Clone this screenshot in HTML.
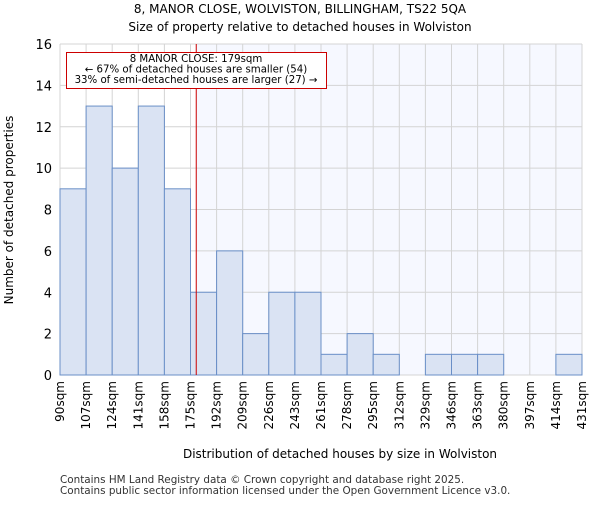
<!DOCTYPE html>
<html><head><meta charset="utf-8"><style>body{margin:0;background:#fff}svg text{font-family:"DejaVu Sans","Liberation Sans",sans-serif}</style></head>
<body>
<svg id="c" width="600" height="500" xmlns="http://www.w3.org/2000/svg">
<text x="300" y="13" text-anchor="middle" font-size="12">8, MANOR CLOSE, WOLVISTON, BILLINGHAM, TS22 5QA</text>
<text x="300" y="31" text-anchor="middle" font-size="12">Size of property relative to detached houses in Wolviston</text>
<g id="g"></g>
<text x="340" y="458" text-anchor="middle" font-size="12">Distribution of detached houses by size in Wolviston</text>
<text transform="translate(13,210) rotate(-90)" text-anchor="middle" font-size="12">Number of detached properties</text>
<text x="60" y="483" font-size="10.4" fill="#333">Contains HM Land Registry data © Crown copyright and database right 2025.</text>
<text x="60" y="494" font-size="10.4" fill="#333">Contains public sector information licensed under the Open Government Licence v3.0.</text>
</svg>
<script>
const binLabels=["90sqm","107sqm","124sqm","141sqm","158sqm","175sqm","192sqm","209sqm","226sqm","243sqm","261sqm","278sqm","295sqm","312sqm","329sqm","346sqm","363sqm","380sqm","397sqm","414sqm","431sqm"];
const counts=[9,13,10,13,9,4,6,2,4,4,1,2,1,0,1,1,1,0,0,1];
const yTicks=[0,2,4,6,8,10,12,14,16];
const binStart=90, binWidth=17.05, propertySize=179;
const X0=60,X1=582,Y0=375,Y1=44;
const n=counts.length,bw=(X1-X0)/n;
const xs=v=>X0+(v-binStart)/binWidth*bw;
const ys=v=>Y0-(v/16)*(Y0-Y1);
const g=document.getElementById('g');
const NS="http://www.w3.org/2000/svg";
function mk(t,a){const e=document.createElementNS(NS,t);for(const k in a)e.setAttribute(k,a[k]);g.appendChild(e);return e;}
const lx=xs(propertySize);
let e=mk('rect',{x:lx,y:Y1,width:X1-lx,height:Y0-Y1,fill:'#f6f8ff'});


for(let i=0;i<=n;i++){e=mk('line',{x1:X0+i*bw,x2:X0+i*bw,y1:Y1,y2:Y0,stroke:'#d4d4d4'});

}
yTicks.forEach(t=>{e=mk('line',{x1:X0,x2:X1,y1:ys(t),y2:ys(t),stroke:'#d4d4d4'});


e=mk('text',{x:X0-8,y:ys(t)+5,'text-anchor':'end','font-size':13});e.textContent=t;

});
counts.forEach((c,i)=>{if(!c)return;e=mk('rect',{x:X0+i*bw,y:ys(c),width:bw,height:Y0-ys(c),fill:'#dae3f3',stroke:'#6a8fc7','stroke-width':1});

});
binLabels.forEach((l,i)=>{const x=X0+i*bw;e=mk('text',{transform:`translate(${x+4},381) rotate(-90)`,'text-anchor':'end','font-size':12});e.textContent=l;

});
e=mk('line',{x1:lx,x2:lx,y1:Y1,y2:Y0,stroke:'#cc0000','stroke-width':1});


e=mk('rect',{x:66.5,y:52.5,width:260,height:36,fill:'#fff',stroke:'#cc0000'});


["8 MANOR CLOSE: 179sqm","← 67% of detached houses are smaller (54)","33% of semi-detached houses are larger (27) →"].forEach((t,i)=>{e=mk('text',{x:196,y:62+i*10.5,'text-anchor':'middle','font-size':10.2});e.textContent=t;

});
</script>
</body></html>
